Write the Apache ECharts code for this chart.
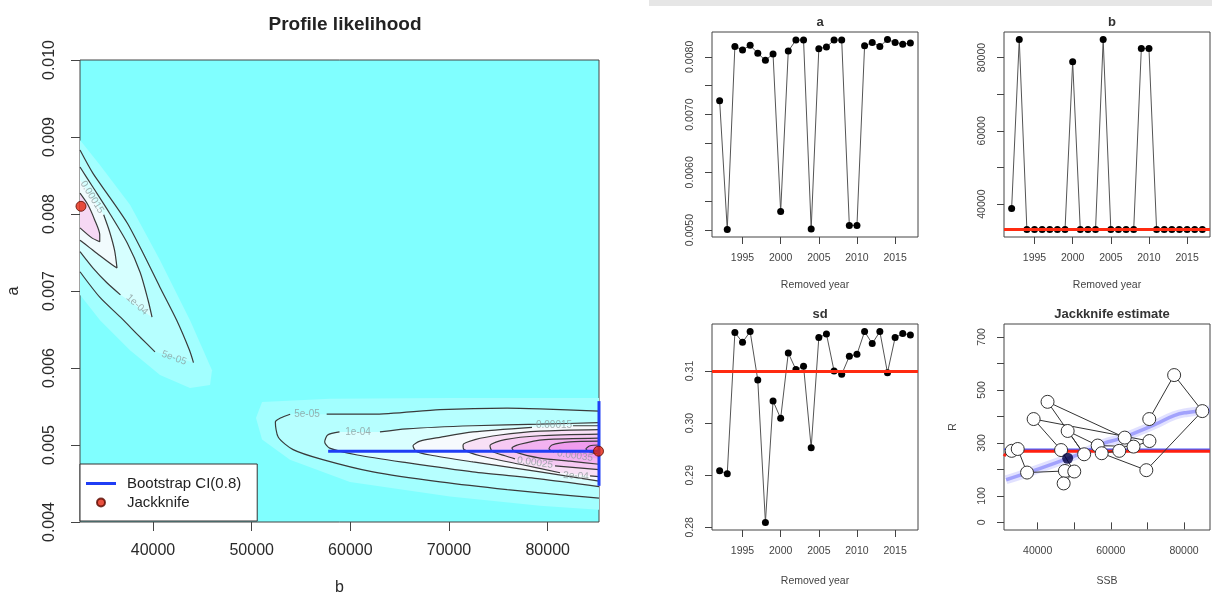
<!DOCTYPE html>
<html><head><meta charset="utf-8">
<script src="https://cdn.jsdelivr.net/npm/echarts@6/dist/echarts.min.js"></script>
<style>html,body{margin:0;padding:0;background:#fff}#c{width:1212px;height:594px}</style>
</head><body><div id="c"></div>
<script>
// ---------- data ----------
const years = [1992,1993,1994,1995,1996,1997,1998,1999,2000,2001,2002,2003,2004,2005,2006,2007,2008,2009,2010,2011,2012,2013,2014,2015,2016,2017];
const jackA = [0.00724,0.00501,0.00818,0.00812,0.00820,0.00806,0.00794,0.00805,0.00532,0.00810,0.00829,0.00829,0.00502,0.00814,0.00817,0.00829,0.00829,0.00508,0.00508,0.00819,0.00825,0.00818,0.00830,0.00825,0.00822,0.00824];
const jackB = [38820,84900,33100,33100,33100,33100,33100,33100,78820,33100,33100,33100,84900,33100,33100,33100,33100,82450,82450,33100,33100,33100,33100,33100,33100,33100];
const jackSd = [0.29087,0.29029,0.31736,0.31550,0.31755,0.30827,0.28095,0.30424,0.30091,0.31345,0.31026,0.31090,0.29528,0.31640,0.31710,0.31000,0.30936,0.31282,0.31320,0.31755,0.31525,0.31755,0.30968,0.31640,0.31717,0.31691];
const estA = 0.00819, estB = 33050, estSd = 0.31128;

// stock-recruit path (Jackknife estimate panel)
const srSSB = [32900,34550,37100,47450,47100,50000,46400,38900,70550,66200,56400,48200,52700,42700,63800,62300,57500,69700,85000,77300,70500];
const srR   = [270,277,188,194,147,192,273,390,307,286,290,345,257,455,320,270,261,197,420,556,390];
const srEst = [48200, 242];
const hsCurve = [[30800,250],[31600,262],[32600,267],[33800,268],[87100,268]];
const hsBlue = [[30800,276],[87100,276]];
const loessCurve = [[31360,161],[35450,179],[44550,223],[53640,270],[58180,299],[62730,317],[71820,368],[77270,403],[80900,415],[87090,424]];

// profile likelihood: contour lines (b, a); null = gap for label
const ulC1 = [[32600,0.00883],[33900,0.00853],[35600,0.00822],[37400,0.00788],[39000,0.00749],[40700,0.00705],[42400,0.00662],[43700,0.00623],[44100,0.00607],null,[40200,0.00621],[38700,0.00640],[36700,0.00666],[34600,0.00692],[32600,0.00725]];
const ulC2 = [[32600,0.00861],[33900,0.00835],[35600,0.00801],[37400,0.00762],[38700,0.00724],[39500,0.00688],[39900,0.00666],null,[36700,0.00695],[35300,0.00711],[33900,0.00730],[32600,0.00751]];
const ulC3 = [[32600,0.00844],null,[35000,0.00799],[35600,0.00777],[36100,0.00753],[36350,0.00730],[35850,0.00734],[34600,0.00746],[33600,0.00756],[32600,0.00766]];
const ulC4 = [[32600,0.00827],[33400,0.00812],[34100,0.00792],[34600,0.00773],[34600,0.00764],[33800,0.00769],[32600,0.00782]];
const lrC1 = [[85200,0.00544],[79200,0.00547],[75900,0.00548],[69100,0.00546],[62300,0.00540],[57600,0.00540],null,[53900,0.00540],[52900,0.00535],[52400,0.00530],[52700,0.00510],[54200,0.00494],[57200,0.00481],[62300,0.00465],[69100,0.00452],[75900,0.00442],[82600,0.00434],[85200,0.00431]];
const lrC2 = [[85200,0.00529],[79200,0.00527],[72400,0.00525],[65700,0.00521],[63000,0.00517],null,[58900,0.00517],[57700,0.00513],[57400,0.00504],[57900,0.00496],[60700,0.00487],[65700,0.00477],[72400,0.00465],[79200,0.00456],[85200,0.00446]];
const lrC3 = [[85200,0.00525],[82570,0.00525],null,[78410,0.00523],[72430,0.00517],[69090,0.00510],[67060,0.00505],[66350,0.00499],[66650,0.00492],[68070,0.00487],[72430,0.00478],[79220,0.00465],[85200,0.00453]];
const lrC4 = [[85200,0.00520],[79220,0.00518],[75170,0.00513],[72630,0.00507],[71420,0.00500],[71520,0.00494],[73140,0.00486],[77190,0.00475],[81250,0.00464],null,[84290,0.00460],[85200,0.00459]];
const lrC5 = [[85200,0.00514],[79220,0.00512],[75670,0.00507],[74150,0.00499],[74360,0.00492],[75670,0.00486],[76690,0.00482],null,[80740,0.00473],[85200,0.00468]];
const lrC6 = [[85200,0.00509],[79730,0.00507],[77190,0.00501],[76380,0.00496],[76690,0.00491],[79220,0.00483],[82260,0.00479],[85200,0.00475]];
const lrC7 = [[85200,0.00505],[82260,0.00504],[80430,0.00500],[80130,0.00495],[80640,0.00491],null,[85200,0.00482]];
const lrC8 = [[85200,0.00500],[84290,0.00499],[83880,0.00495],[84290,0.00491],[85200,0.00488]];
const hazeUL = [[32600,0.00896],[34600,0.00864],[37670,0.00812],[40710,0.00740],[43750,0.00662],[45980,0.00597],[45780,0.00578],[43750,0.00574],[40710,0.00591],[37670,0.00623],[34630,0.00662],[32600,0.00695]];
const hazeLR = [[85200,0.00561],[70100,0.00561],[57940,0.00560],[51050,0.00556],[50440,0.00535],[51050,0.00507],[53880,0.00481],[59960,0.00452],[70100,0.00433],[79220,0.00421],[85200,0.00416]];
const contourLabels = [[55610,0.00540,'5e-05'],[60780,0.00517,'1e-04'],[80640,0.00526,'0.00015'],[78710,0.00477,'0.00025'],[82770,0.00486,'0.00035'],[82870,0.00460,'2e-04'],[38380,0.00682,'1e-04'],[42130,0.00613,'5e-05'],[33820,0.00822,'0.00015']];
const contourLabelRot = [0,0,0,-8,-8,-3,-42,-20,-58];
const bootH = [[57750,0.00492],[85200,0.00492]];
const bootV = [[85200,0.00447],[85200,0.00557]];
const jackPts = [[32700,0.00810],[85150,0.00492]];

// tick values
const plX = [40000,50000,60000,70000,80000];
const plY = [0.004,0.005,0.006,0.007,0.008,0.009,0.010];
const yrTicks = [1995,2000,2005,2010,2015];
const aTicks = [0.005,0.0055,0.006,0.0065,0.007,0.0075,0.008];
const aLabels = [0.005,0.006,0.007,0.008];
const bTicks = [40000,50000,60000,70000,80000];
const bLabels = [40000,60000,80000];
const sdTicks = [0.28,0.29,0.30,0.31];
const ssbTicks = [40000,50000,60000,70000,80000];
const ssbLabels = [40000,60000,80000];
const rTicks = [0,100,200,300,400,500,600,700];
const rLabels = [0,100,300,500,700];

// ---------- chart ----------
const FONT = "'Liberation Sans', Arial, Helvetica, sans-serif";
const chart = echarts.init(document.getElementById('c'));

function splitSegs(arr){const s=[];let c=[];arr.forEach(p=>{if(p===null){if(c.length)s.push(c);c=[];}else c.push(p);});if(c.length)s.push(c);return s;}

const fillList = [
  {pts:hazeUL,color:'#a2ffff'},{pts:ulC1,color:'#b6ffff'},{pts:ulC2,color:'#d6ffff'},{pts:ulC3,color:'#f1fbfd'},{pts:ulC4,color:'#f6d8f4'},
  {pts:hazeLR,color:'#a2ffff'},{pts:lrC1,color:'#b6ffff'},{pts:lrC2,color:'#d9ffff'},{pts:lrC3,color:'#f6fafd'},{pts:lrC4,color:'#f8e0f6'},
  {pts:lrC5,color:'#f6c9f3'},{pts:lrC6,color:'#f3b2f0'},{pts:lrC7,color:'#f09cee'},{pts:lrC8,color:'#ed8aec'}
].map(f=>({pts:f.pts.filter(p=>p!==null),color:f.color}));

function xAx(g,min,max,ticks,labels,fmt,o){
  return {gridIndex:g,type:'value',min:min,max:max,
    axisLine:{show:false},splitLine:{show:false},
    axisTick:{show:true,inside:false,length:o.tl,customValues:ticks,lineStyle:{color:'#444'}},
    axisLabel:{customValues:labels,formatter:fmt,fontSize:o.fs,color:o.col,margin:o.lm,fontFamily:FONT},
    name:o.name||'',nameLocation:'middle',nameGap:o.ng||0,nameTextStyle:{fontSize:o.fs,color:o.col,fontFamily:FONT}};
}
function yAx(g,min,max,ticks,labels,fmt,o){
  return {gridIndex:g,type:'value',min:min,max:max,
    axisLine:{show:false},splitLine:{show:false},
    axisTick:{show:true,inside:false,length:o.tl,customValues:ticks,lineStyle:{color:'#444'}},
    axisLabel:{customValues:labels,formatter:fmt,rotate:90,fontSize:o.fs,color:o.col,margin:o.lm,fontFamily:FONT},
    name:o.name||'',nameLocation:'middle',nameRotate:90,nameGap:o.ng||0,nameTextStyle:{fontSize:o.fs,color:o.col,fontFamily:FONT}};
}
const big = {tl:9,fs:16,col:'#2a2a2a',lm:21};
const sm = {tl:7,fs:10.5,col:'#444',lm:16};

const series = [];
series.push({type:'custom',xAxisIndex:0,yAxisIndex:0,clip:true,silent:true,z:1,
  data:fillList.map(f=>f.pts[0]),
  renderItem:(params,api)=>{const f=fillList[params.dataIndex];
    return {type:'polygon',shape:{points:f.pts.map(p=>api.coord(p))},style:{fill:f.color}};}
});
[ulC1,ulC2,ulC3,ulC4,lrC1,lrC2,lrC3,lrC4,lrC5,lrC6,lrC7,lrC8].forEach(c=>{
  splitSegs(c).filter(s=>s.length>1).forEach(seg=>{
    series.push({type:'line',xAxisIndex:0,yAxisIndex:0,data:seg,symbol:'none',smooth:0.25,silent:true,z:3,
      lineStyle:{color:'#3a3a3a',width:1.2}});
  });
});
series.push({type:'scatter',xAxisIndex:0,yAxisIndex:0,symbolSize:0,silent:true,z:4,
  data:contourLabels.map((d,i)=>({value:[d[0],d[1]],name:d[2],label:{rotate:contourLabelRot[i]}})),
  label:{show:true,position:'inside',formatter:p=>p.name,fontSize:10,color:'#8c9c9c',fontFamily:FONT}
});
[bootH,bootV].forEach(d=>series.push({type:'line',name:'Bootstrap CI(0.8)',xAxisIndex:0,yAxisIndex:0,data:d,symbol:'none',showSymbol:false,clip:false,z:5,
  lineStyle:{color:'#1f3df5',width:3},itemStyle:{color:'#1f3df5'}}));
series.push({type:'scatter',name:'Jackknife',xAxisIndex:0,yAxisIndex:0,data:jackPts,symbol:'circle',symbolSize:10,clip:false,z:6,
  itemStyle:{color:'#e3260f',borderColor:'#5a0a00',borderWidth:1}});

function redLine(v){return {silent:true,symbol:['none','none'],label:{show:false},lineStyle:{color:'#ff2a10',width:3,type:'solid'},data:[{yAxis:v}]};}
function yearSeries(g,vals,est){
  return {type:'line',xAxisIndex:g,yAxisIndex:g,data:years.map((y,i)=>[y,vals[i]]),symbol:'circle',symbolSize:7,
    itemStyle:{color:'#000'},lineStyle:{color:'#555',width:1},markLine:redLine(est),z:3};
}
series.push(yearSeries(1,jackA,estA));
series.push(yearSeries(2,jackB,estB));
series.push(yearSeries(3,jackSd,estSd));

series.push({type:'line',xAxisIndex:4,yAxisIndex:4,data:loessCurve,symbol:'none',smooth:true,z:2,lineStyle:{color:'rgba(170,170,255,0.35)',width:9}});
series.push({type:'line',xAxisIndex:4,yAxisIndex:4,data:loessCurve,symbol:'none',smooth:true,z:2,lineStyle:{color:'rgba(120,120,250,0.6)',width:3.5}});
series.push({type:'line',xAxisIndex:4,yAxisIndex:4,data:hsBlue,symbol:'none',z:3,lineStyle:{color:'#4a5cff',width:1.5}});
series.push({type:'line',xAxisIndex:4,yAxisIndex:4,data:hsCurve,symbol:'none',smooth:0.4,z:3,lineStyle:{color:'#ff2010',width:3}});
series.push({type:'line',xAxisIndex:4,yAxisIndex:4,data:srSSB.map((s,i)=>[s,srR[i]]),symbol:'circle',symbolSize:13,z:4,
  itemStyle:{color:'#fff',borderColor:'#333',borderWidth:1},lineStyle:{color:'#333',width:1}});
series.push({type:'scatter',xAxisIndex:4,yAxisIndex:4,data:[srEst],symbol:'circle',symbolSize:11,z:6,itemStyle:{color:'#000040'}});

const gridBase = {show:true,borderColor:'#444',borderWidth:1,outerBoundsMode:'none',containLabel:false};
const option = {
  animation:false,
  backgroundColor:'#fff',
  textStyle:{fontFamily:FONT},
  graphic:[{type:'rect',left:649,top:0,shape:{width:563,height:6},style:{fill:'#e6e6e6'},silent:true}],
  title:[
    {text:'Profile likelihood',left:340,top:10,textAlign:'center',textStyle:{fontSize:19,fontWeight:'bold',color:'#222',fontFamily:FONT}},
    {text:'a',left:815,top:11,textAlign:'center',textStyle:{fontSize:13,fontWeight:'bold',color:'#333',fontFamily:FONT}},
    {text:'b',left:1107,top:11,textAlign:'center',textStyle:{fontSize:13,fontWeight:'bold',color:'#333',fontFamily:FONT}},
    {text:'sd',left:815,top:303,textAlign:'center',textStyle:{fontSize:13,fontWeight:'bold',color:'#333',fontFamily:FONT}},
    {text:'Jackknife estimate',left:1107,top:303,textAlign:'center',textStyle:{fontSize:13,fontWeight:'bold',color:'#333',fontFamily:FONT}}
  ],
  legend:{data:[{name:'Bootstrap CI(0.8)',icon:'path://M0,0 L30,0 L30,3 L0,3 Z'},{name:'Jackknife',icon:'circle'}],orient:'vertical',left:80,top:464,
    itemWidth:30,itemHeight:8,itemGap:2,padding:[11,16,10,6],backgroundColor:'#fff',borderColor:'#333',borderWidth:1,borderRadius:0,
    selectedMode:false,textStyle:{fontSize:15,color:'#222',lineHeight:17,fontFamily:FONT,padding:[0,0,0,6]}},
  grid:[
    Object.assign({left:80,top:60,width:519,height:462,backgroundColor:'#80ffff'},gridBase),
    Object.assign({left:712,top:32,width:206,height:205},gridBase),
    Object.assign({left:1004,top:32,width:206,height:205},gridBase),
    Object.assign({left:712,top:324,width:206,height:206},gridBase),
    Object.assign({left:1004,top:324,width:206,height:206},gridBase)
  ],
  xAxis:[
    xAx(0,32600,85200,plX,plX,v=>String(v),Object.assign({name:'b',ng:58},big)),
    xAx(1,1991,2018,yrTicks,yrTicks,v=>String(v),Object.assign({name:'Removed year',ng:43},sm)),
    xAx(2,1991,2018,yrTicks,yrTicks,v=>String(v),Object.assign({name:'Removed year',ng:43},sm)),
    xAx(3,1991,2018,yrTicks,yrTicks,v=>String(v),Object.assign({name:'Removed year',ng:46},sm)),
    xAx(4,30800,87100,ssbTicks,ssbLabels,v=>String(v),Object.assign({name:'SSB',ng:46},sm))
  ],
  yAxis:[
    yAx(0,0.004,0.010,plY,plY,v=>v.toFixed(3),Object.assign({name:'a',ng:58},big,{lm:22})),
    yAx(1,0.00488,0.00843,aTicks,aLabels,v=>v.toFixed(4),sm),
    yAx(2,31030,86970,bTicks,bLabels,v=>String(v),sm),
    yAx(3,0.27949,0.31901,sdTicks,sdTicks,v=>v.toFixed(2),sm),
    yAx(4,-28.8,748.8,rTicks,rLabels,v=>String(v),Object.assign({name:'R',ng:45},sm))
  ],
  series:series
};
chart.setOption(option);
</script></body></html>
